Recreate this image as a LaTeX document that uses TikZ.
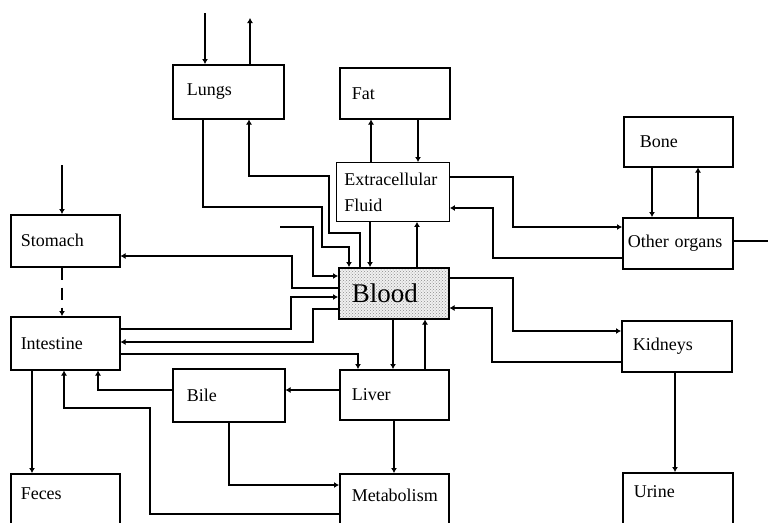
\documentclass[tikz,border=0pt]{standalone}
\usepackage{fontspec}
\setmainfont{Liberation Serif}
\usetikzlibrary{arrows.meta,patterns}
\begin{document}
\begin{tikzpicture}[x=1pt,y=-1pt,
  box/.style={draw, line width=1.5pt, anchor=north west, align=left, inner xsep=12pt, text width=86pt,
    minimum height=52pt, inner ysep=0pt, font=\fontsize{18}{26}\selectfont},
  cutbox/.style={box, minimum height=0pt, inner ysep=12pt, text height=14pt, text depth=50pt},
  conn/.style={line width=1.1pt},
  arr/.style={conn, -{Latex[length=5pt,width=6pt]}}
]
\useasboundingbox (0,0) rectangle (768,522);
\clip (0,0) rectangle (768,522);
% boxes
\node[box, inner xsep=14pt, text width=83pt, minimum height=54pt] (lungs) at (172,64) {Lungs};
\node[box, inner xsep=12pt, text width=86pt, minimum height=51pt] (fat) at (339,67) {Fat};
\node[box, line width=0.9pt, inner xsep=8pt, text width=97pt, minimum height=59pt] (ecf) at (336,162) {Extracellular\\Fluid};
\node[box, inner xsep=13pt, text width=84pt, minimum height=51pt, font=\fontsize{27}{30}\selectfont,
  preaction={fill=gray!12}, pattern=crosshatch dots, pattern color=black!45] (blood) at (338,267) {Blood};
\node[box, inner xsep=10pt, text width=89pt] (stomach) at (10,214) {Stomach};
\node[box, inner xsep=10pt, text width=89pt, minimum height=53pt] (intestine) at (10,316) {Intestine};
\node[box, inner xsep=14pt, text width=84pt, minimum height=53pt] (bile) at (172,368) {Bile};
\node[box, inner xsep=12pt, text width=85pt, minimum height=50pt] (liver) at (339,369) {Liver};
\node[box, inner xsep=16pt, text width=77pt, minimum height=50pt] (bone) at (623,116) {Bone};
\node[box, inner xsep=5pt, text width=100pt, minimum height=51pt] (other) at (622,217) {Other organs};
\node[box, inner xsep=11pt, text width=88pt, minimum height=51pt] (kidneys) at (621,320) {Kidneys};
\node[cutbox, inner xsep=10pt, text width=89pt] (feces) at (10,473) {Feces};
\node[cutbox, inner xsep=12pt, text width=85pt, text height=16pt] (metab) at (339,473) {Metabolism};
\node[cutbox, inner xsep=11pt, text width=88pt, text height=13pt] (urine) at (622,472) {Urine};
% free ends
\coordinate (airIn) at (205,13);
\coordinate (airOut) at (250,18);
\coordinate (stIn) at (62,165);
\coordinate (free1) at (280,227);
\coordinate (otherOut) at (768,241);
% connectors
\draw[arr] (airIn) -- (airIn |- lungs.north);
\draw[arr] (250,0 |- lungs.north) -- (airOut);
\draw[arr] (203,0 |- lungs.south) |- (322,207) |- (349,247) -- (349,0 |- blood.north);
\draw[arr] (360,0 |- blood.north) |- (329,233) |- (249,176) -- (249,0 |- lungs.south);
\draw[arr] (370,0 |- ecf.south) -- (370,0 |- blood.north);
\draw[arr] (417,0 |- blood.north) -- (417,0 |- ecf.south);
\draw[arr] (371,0 |- ecf.north) -- (371,0 |- fat.south);
\draw[arr] (418,0 |- fat.south) -- (418,0 |- ecf.north);
\draw[arr] (free1) -| (313,276) -- (blood.west |- 0,276);
\draw[arr] (blood.west |- 0,288) -| (292,256) -- (stomach.east |- 0,256);
\draw[arr] (intestine.east |- 0,329) -| (291,297) -- (blood.west |- 0,297);
\draw[arr] (blood.west |- 0,309) -| (313,342) -- (intestine.east |- 0,342);
\draw[arr] (intestine.east |- 0,354) -| (358,0 |- liver.north);
\draw[arr] (393,0 |- blood.south) -- (393,0 |- liver.north);
\draw[arr] (425,0 |- liver.north) -- (425,0 |- blood.south);
\draw[arr] (ecf.east |- 0,177) -| (513,227) -- (other.west |- 0,227);
\draw[arr] (other.west |- 0,258) -| (493,208) -- (ecf.east |- 0,208);
\draw[arr] (652,0 |- bone.south) -- (652,0 |- other.north);
\draw[arr] (698,0 |- other.north) -- (698,0 |- bone.south);
\draw[conn] (other.east |- 0,241) -- (otherOut);
\draw[arr] (blood.east |- 0,278) -| (513,331) -- (kidneys.west |- 0,331);
\draw[arr] (kidneys.west |- 0,362) -| (492,308) -- (blood.east |- 0,308);
\draw[arr] (675,0 |- kidneys.south) -- (675,0 |- urine.north);
\draw[arr] (bile.west |- 0,390) -| (98,0 |- intestine.south);
\draw[arr] (liver.west |- 0,390) -- (bile.east |- 0,390);
\draw[arr] (32,0 |- intestine.south) -- (32,0 |- feces.north);
\draw[arr] (metab.west |- 0,514) -| (150,408) -| (64,0 |- intestine.south);
\draw[arr] (229,0 |- bile.south) |- (metab.west |- 0,485);
\draw[arr] (394,0 |- liver.south) -- (394,0 |- metab.north);
\draw[arr] (stIn) -- (stIn |- stomach.north);
\draw[arr, dash pattern=on 12pt off 8pt] (62,0 |- stomach.south) -- (62,0 |- intestine.north);
\end{tikzpicture}
\end{document}
